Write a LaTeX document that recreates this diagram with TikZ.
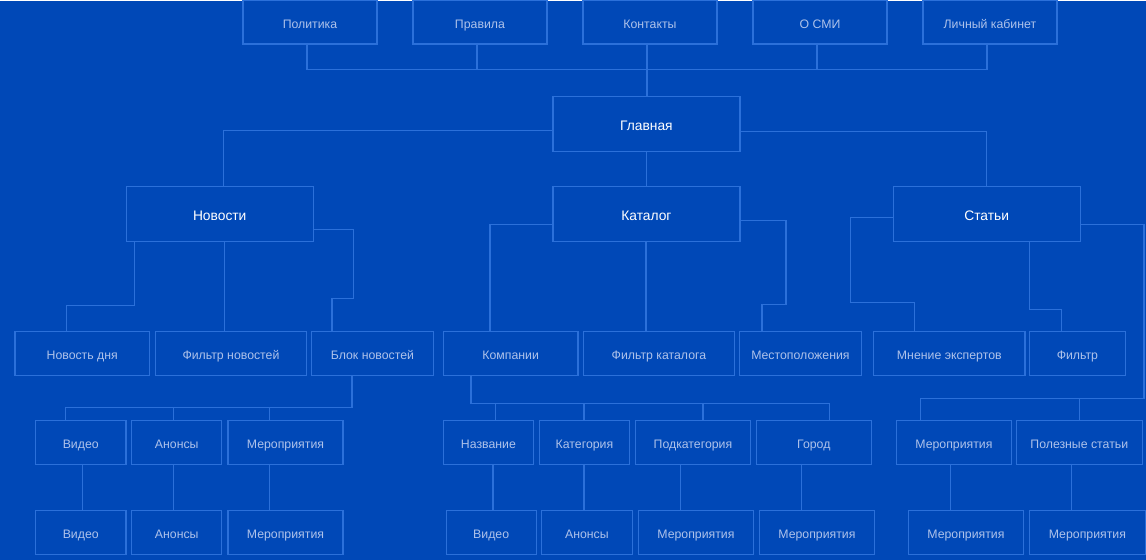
\documentclass[tikz,border=0pt]{standalone}
\usepackage{fontspec}
\setmainfont{Liberation Sans}
\definecolor{bg}{HTML}{0048B7}
\definecolor{edge}{HTML}{2B70DA}
\definecolor{muted}{HTML}{AEC2EA}
\tikzset{
  box/.style={draw=edge,line width=1.2pt,rectangle,inner sep=0,minimum height=43.5pt,
    text height=11.5pt,text depth=0pt,text=muted,font=\fontsize{12.3}{14}\selectfont},
  mainbox/.style={box,minimum height=55pt,minimum width=187pt,text=white,
    text height=12pt,font=\fontsize{13.8}{16}\selectfont},
  link/.style={draw=edge,line width=1.2pt},
}
\begin{document}
\begin{tikzpicture}[x=1pt,y=-1pt]
  \fill[bg] (0,0) rectangle (1146,559);
  % top menu
  \coordinate (topbus) at (647,69);
  \foreach \n/\x/\lbl in {pol/310/Политика,prav/480/Правила,kont/650/Контакты,osmi/820/О СМИ,lk/990/Личный кабинет}{
    \node [box,minimum width=134] (\n) at (\x,21.5) {\lbl};
    \draw [link] ([xshift=-3pt]\n.south) |- (topbus);
  }
  \node [mainbox] (glav) at (646.5,123.5) {Главная};
  \draw [link] (topbus) -- (topbus |- glav.north);
  % sections
  \node [mainbox] (nov) at (219.75,213.5) {Новости};
  \node [mainbox] (kat) at (646.5,213.5) {Каталог};
  \node [mainbox] (stat) at (986.75,213.5) {Статьи};
  \draw [link] ([yshift=-6.5pt]glav.west) -| ([xshift=4pt]nov.north);
  \draw [link] (glav.south) -- (kat.north);
  \draw [link] ([yshift=-7.5pt]glav.east) -| (stat.north);
  % second level
  \foreach \n/\x/\w/\lbl in {ndn/82.25/134.5/Новость дня,fnov/231/151.3/Фильтр новостей,
      bnov/372.5/122/Блок новостей,komp/510.7/134.7/Компании,fkat/659/151/Фильтр каталога,
      mest/800.5/121.7/Местоположения,mnen/949.4/151.2/Мнение экспертов,filt/1077.5/96/Фильтр}
    \node [box,minimum width=\w] (\n) at (\x,352.75) {\lbl};
  % third level
  \foreach \n/\x/\w/\lbl in {v1/80.75/90.5/Видео,a1/176.75/90.3/Анонсы,m1/285.5/115/Мероприятия,
      naz/488.5/90.3/Название,kateg/584.5/90/Категория,podk/693/115/Подкатегория,
      gor/813.9/114.7/Город,m2/954/115/Мероприятия,polz/1079.4/126/Полезные статьи}
    \node [box,minimum width=\w] (\n) at (\x,441.7) {\lbl};
  % fourth level
  \foreach \n/\x/\w/\lbl in {v2/80.75/90.5/Видео,a2/176.75/90.3/Анонсы,m3/285.5/115/Мероприятия,
      v3/491.25/90/Видео,a3/586.9/90.6/Анонсы,m4/696/115/Мероприятия,
      m5/817/115/Мероприятия,m6/966/115/Мероприятия,m7/1087.5/116/Мероприятия}
    \node [box,minimum width=\w] (\n) at (\x,531.7) {\lbl};
  \foreach \u/\l/\s in {v1/v2/1.5,a1/a2/-3,m1/m3/-16,naz/v3/4.5,kateg/a3/-0.5,
      podk/m4/-12.5,gor/m5/-12.5,m2/m6/-3.4,polz/m7/-8}
    \draw [link] ([xshift=\s pt]\u.south) coordinate (s) -- (s |- \l.north);
  % news
  \draw [link] ([xshift=9pt]nov.south west) -- ++(0,63) -| ([xshift=-16pt]ndn.north);
  \draw [link] ([xshift=5pt]nov.south) coordinate (s) -- (s |- fnov.north);
  \draw [link] ([yshift=-15.5pt]nov.east) -- ++(40,0) -- ++(0,68.7) -| ([xshift=-40.5pt]bnov.north);
  \draw [link] ([xshift=-20.5pt]bnov.south) -- ++(0,31.5) coordinate (nb) -| ([xshift=-15pt]v1.north);
  \draw [link] ([xshift=-3pt]a1.north) coordinate (s) -- (s |- nb);
  \draw [link] ([xshift=-16pt]m1.north) coordinate (s) -- (s |- nb);
  % catalog
  \draw [link] ([yshift=-10.5pt]kat.west) -| ([xshift=-20.7pt]komp.north);
  \draw [link] ([xshift=-0.5pt]kat.south) coordinate (s) -- (s |- fkat.north);
  \draw [link] ([yshift=-6.5pt]kat.east) -- ++(45.4,0) -- ++(0,84) -| ([xshift=-38.5pt]mest.north);
  \draw [link] ([xshift=-39.7pt]komp.south) -- ++(0,27.5) coordinate (kb) -| ([xshift=15.3pt]gor.north);
  \foreach \n/\s in {naz/6.8,kateg/-0.5,podk/10}
    \draw [link] ([xshift=\s pt]\n.north) coordinate (s) -- (s |- kb);
  % articles
  \draw [link] ([yshift=-3.5pt]stat.west) -- ++(-42,0) -- ++(0,85) -| ([xshift=-34.7pt]mnen.north);
  \draw [link] ([xshift=42.75pt]stat.south) -- ++(0,67) -| ([xshift=-16.2pt]filt.north);
  \draw [link] ([yshift=-10.5pt]stat.east) -- ++(63.2,0) -- ++(0,173.7) coordinate (sb) -| ([xshift=-33.8pt]m2.north);
  \draw [link] (polz.north) -- (polz.north |- sb);
\end{tikzpicture}
\end{document}
